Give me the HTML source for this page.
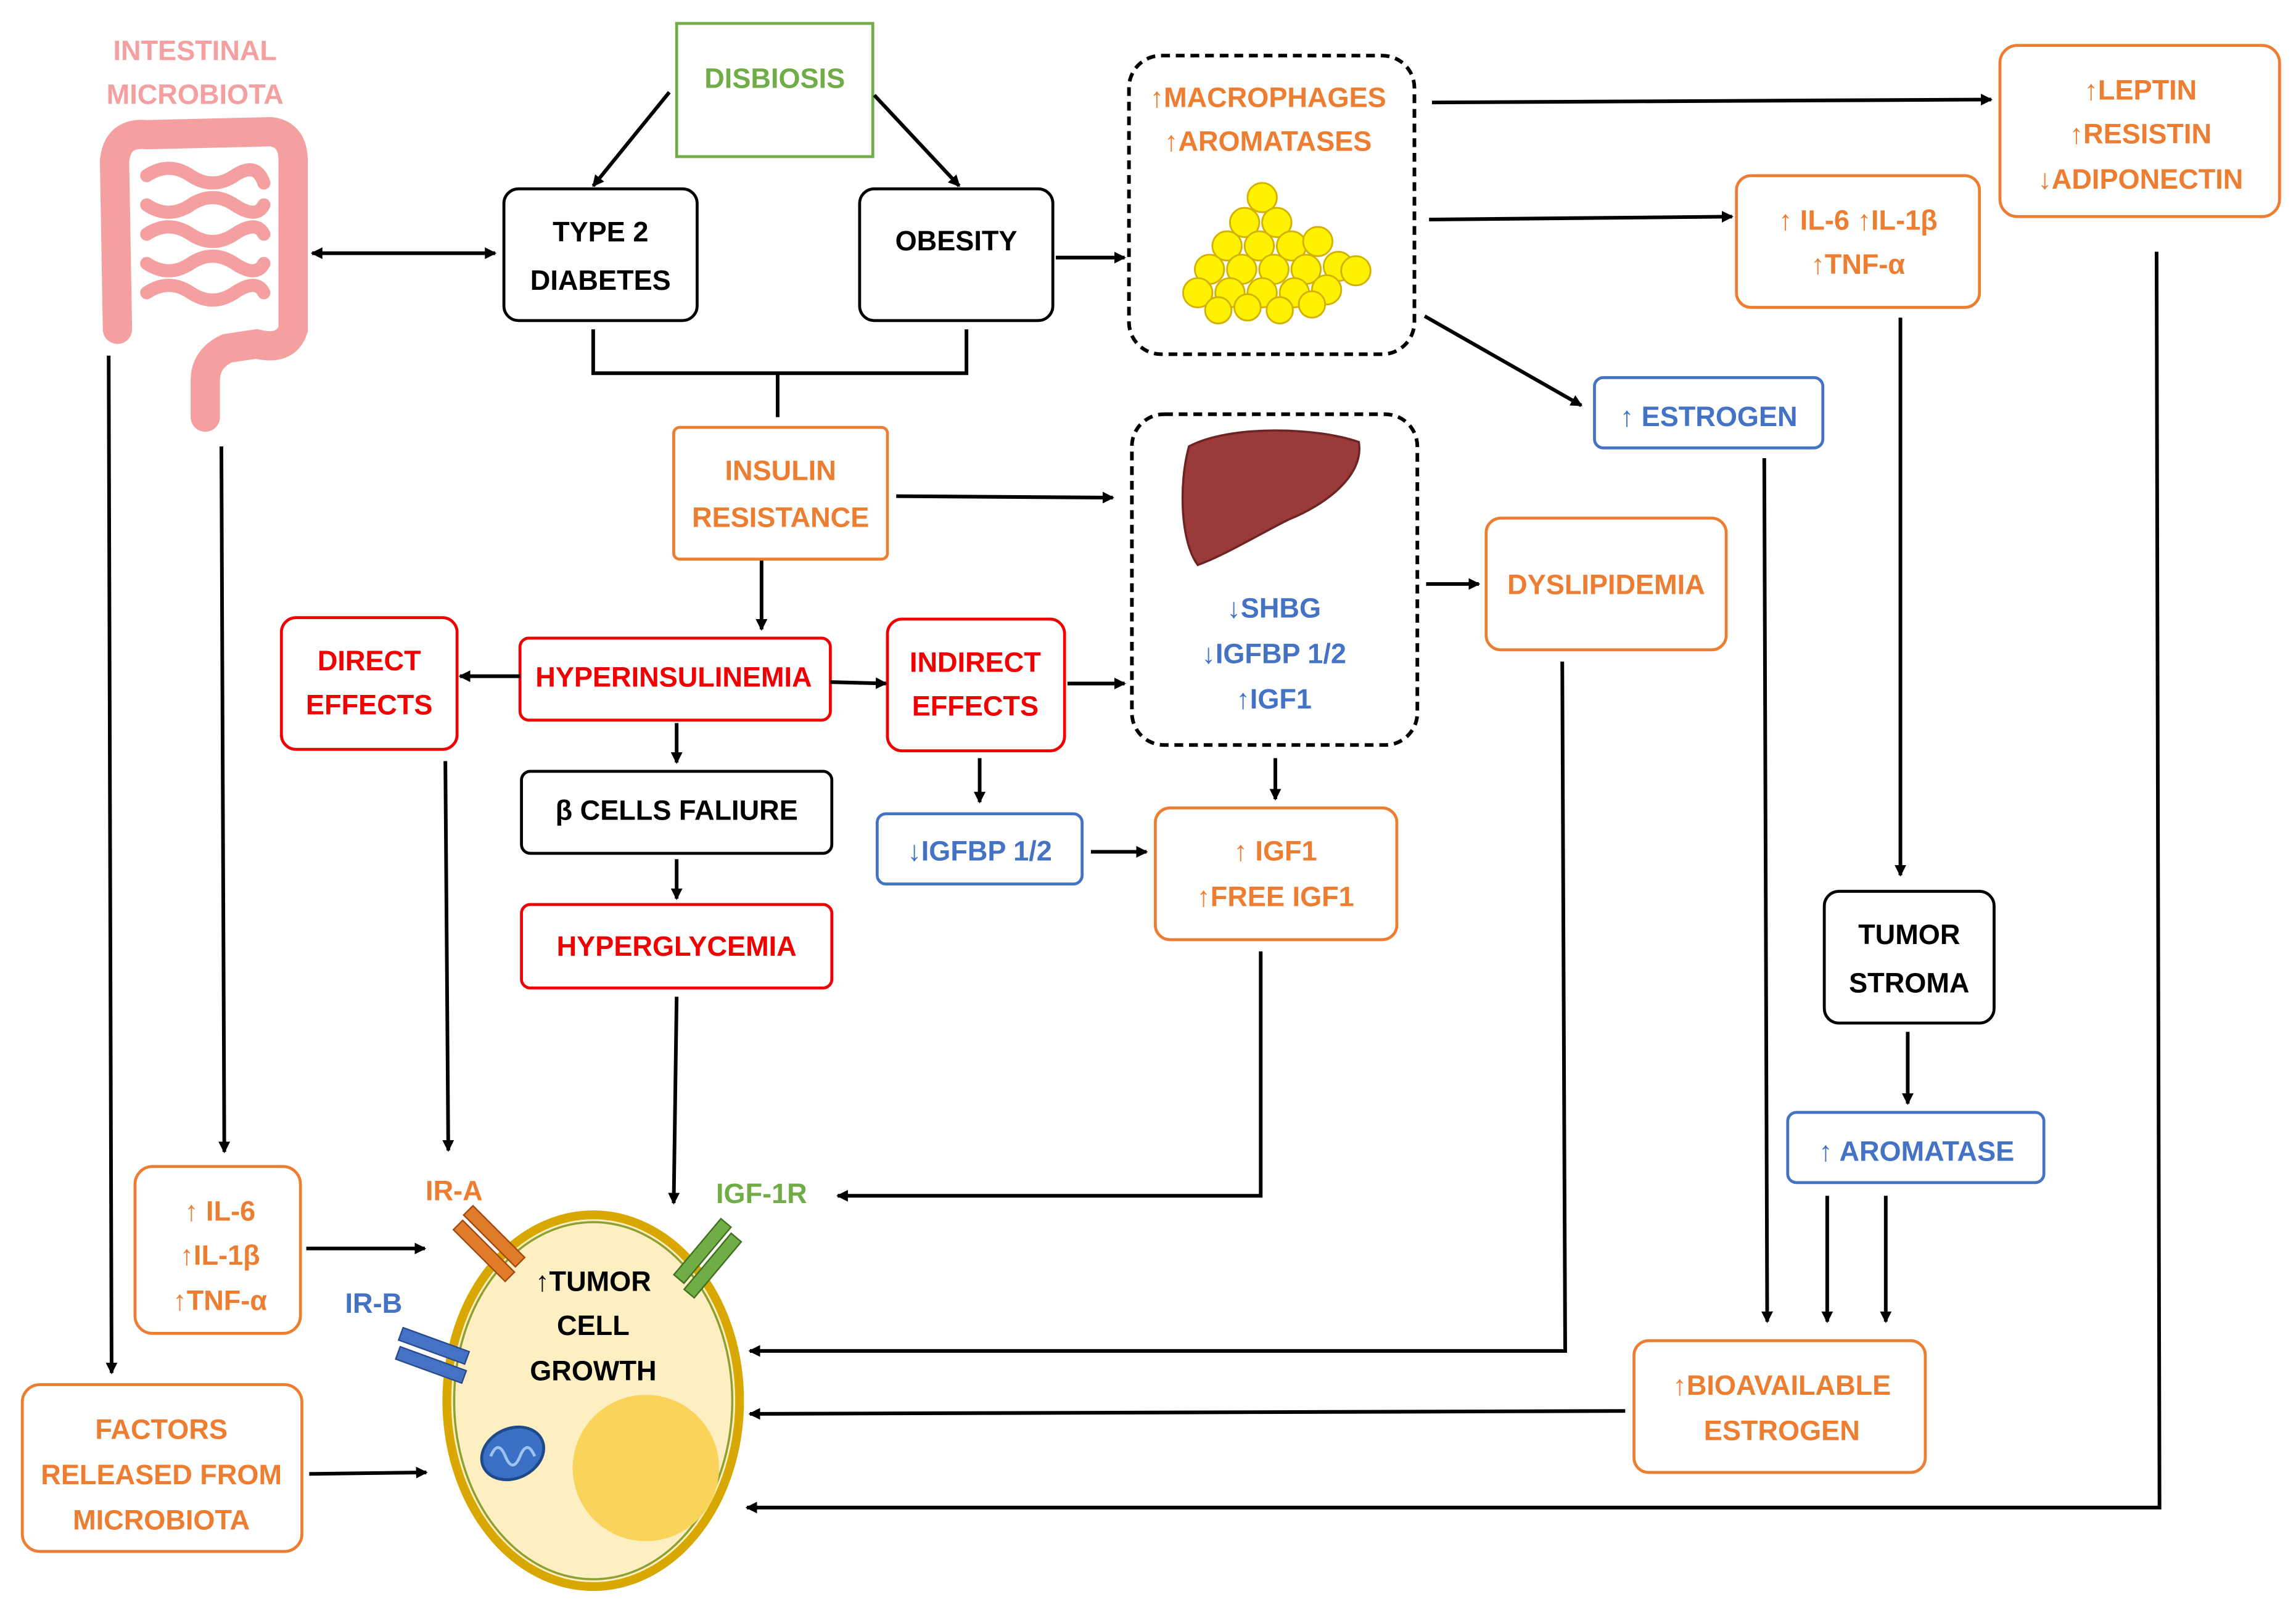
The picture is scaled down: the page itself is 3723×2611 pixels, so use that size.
<!DOCTYPE html>
<html><head><meta charset="utf-8"><style>
html,body{margin:0;padding:0;background:#fff}
svg{display:block}
text{font-family:"Liberation Sans Narrow","Liberation Sans",sans-serif;font-weight:bold;font-size:19px;text-anchor:middle;dominant-baseline:middle}
.o{fill:#ED7D31}.r{fill:#F00000}.b{fill:#4472C4}.g{fill:#70AD47}.k{fill:#000}.p{fill:#F4A0A0}
tspan.ar{font-family:"DejaVu Sans",sans-serif;font-weight:normal}
</style></head><body>
<svg width="3723" height="2611" viewBox="0 0 1568 1100" xmlns="http://www.w3.org/2000/svg">
<defs><marker id="a" markerWidth="8" markerHeight="8" refX="7" refY="4" orient="auto" markerUnits="userSpaceOnUse" viewBox="0 0 8 8"><path d="M0,0 L8,4 L0,8 z" fill="#000"/></marker>
<marker id="s" markerWidth="8" markerHeight="8" refX="1" refY="4" orient="auto" markerUnits="userSpaceOnUse" viewBox="0 0 8 8"><path d="M8,0 L0,4 L8,8 z" fill="#000"/></marker></defs>
<g fill="none" stroke-width="2">
<rect x="462" y="16" width="134" height="91" stroke="#70AD47"/>
<rect x="344" y="129" width="132" height="90" rx="10" stroke="#000"/>
<rect x="587" y="129" width="132" height="90" rx="10" stroke="#000"/>
<rect x="771" y="38" width="195" height="204" rx="22" stroke="#000" stroke-dasharray="6,4" stroke-width="2.5"/>
<rect x="1366" y="31" width="191" height="117" rx="12" stroke="#ED7D31"/>
<rect x="1186" y="120" width="166" height="90" rx="10" stroke="#ED7D31"/>
<rect x="1089" y="258" width="156" height="48" rx="6" stroke="#4472C4"/>
<rect x="460" y="292" width="146" height="90" rx="4" stroke="#ED7D31"/>
<rect x="773" y="283" width="195" height="226" rx="22" stroke="#000" stroke-dasharray="6,4" stroke-width="2.5"/>
<rect x="1015" y="354" width="164" height="90" rx="10" stroke="#ED7D31"/>
<rect x="355" y="436" width="212" height="56" rx="6" stroke="#F00000"/>
<rect x="192" y="422" width="120" height="90" rx="10" stroke="#F00000"/>
<rect x="606" y="423" width="121" height="90" rx="10" stroke="#F00000"/>
<rect x="356" y="527" width="212" height="56" rx="6" stroke="#000"/>
<rect x="356" y="618" width="212" height="57" rx="6" stroke="#F00000"/>
<rect x="599" y="556" width="140" height="48" rx="6" stroke="#4472C4"/>
<rect x="789" y="552" width="165" height="90" rx="10" stroke="#ED7D31"/>
<rect x="1246" y="609" width="116" height="90" rx="10" stroke="#000"/>
<rect x="1221" y="760" width="175" height="48" rx="6" stroke="#4472C4"/>
<rect x="1116" y="916" width="199" height="90" rx="10" stroke="#ED7D31"/>
<rect x="92" y="797" width="113" height="114" rx="12" stroke="#ED7D31"/>
<rect x="15" y="946" width="191" height="114" rx="12" stroke="#ED7D31"/>
</g>
<g stroke="#000" stroke-width="2.5" fill="none" marker-end="url(#a)">
<line x1="457" y1="63" x2="405" y2="127"/>
<line x1="597" y1="65" x2="655" y2="127"/>
<line x1="213" y1="173" x2="338" y2="173" marker-start="url(#s)"/>
<line x1="721" y1="176" x2="768" y2="176"/>
<line x1="978" y1="70" x2="1360" y2="68"/>
<line x1="976" y1="150" x2="1183" y2="148"/>
<line x1="973" y1="216" x2="1080" y2="277"/>
<line x1="612" y1="339" x2="760" y2="340"/>
<line x1="974" y1="399" x2="1010" y2="399"/>
<line x1="520" y1="383" x2="520" y2="430"/>
<line x1="355" y1="462" x2="314" y2="462"/>
<line x1="567" y1="466" x2="605" y2="467"/>
<line x1="729" y1="467" x2="768" y2="467"/>
<line x1="462" y1="494" x2="462" y2="521"/>
<line x1="462" y1="587" x2="462" y2="614"/>
<line x1="669" y1="518" x2="669" y2="548"/>
<line x1="745" y1="582" x2="783" y2="582"/>
<line x1="871" y1="518" x2="871" y2="546"/>
<line x1="1298" y1="217" x2="1298" y2="598"/>
<line x1="1303" y1="705" x2="1303" y2="754"/>
<line x1="1248" y1="817" x2="1248" y2="903"/>
<line x1="1288" y1="817" x2="1288" y2="903"/>
<line x1="1205" y1="313" x2="1207" y2="903"/>
<line x1="1110" y1="964" x2="512" y2="966"/>
<polyline points="1473,172 1475,1030 510,1030"/>
<polyline points="1067,452 1069,923 512,923"/>
<polyline points="861,650 861,817 572,817"/>
<line x1="462" y1="681" x2="460" y2="822"/>
<line x1="304" y1="520" x2="306" y2="786"/>
<line x1="151" y1="305" x2="153" y2="787"/>
<line x1="74" y1="243" x2="76" y2="938"/>
<line x1="209" y1="853" x2="290" y2="853"/>
<line x1="211" y1="1007" x2="291" y2="1006"/>
</g>
<polyline points="405,225 405,255 660,255 660,225" fill="none" stroke="#000" stroke-width="2.5"/>
<line x1="531" y1="255" x2="531" y2="285" stroke="#000" stroke-width="2.5"/>
<g fill="#FFF200" stroke="#D4B000" stroke-width="1.2">
<circle cx="862" cy="135" r="10"/><circle cx="850" cy="152" r="10"/><circle cx="872" cy="152" r="10"/>
<circle cx="838" cy="168" r="10"/><circle cx="860" cy="168" r="10"/><circle cx="882" cy="168" r="10"/><circle cx="900" cy="165" r="10"/>
<circle cx="826" cy="184" r="10"/><circle cx="848" cy="184" r="10"/><circle cx="870" cy="184" r="10"/><circle cx="892" cy="184" r="10"/><circle cx="914" cy="182" r="10"/>
<circle cx="818" cy="200" r="10"/><circle cx="840" cy="200" r="10"/><circle cx="862" cy="200" r="10"/><circle cx="884" cy="200" r="10"/><circle cx="906" cy="198" r="10"/><circle cx="926" cy="185" r="10"/>
<circle cx="832" cy="212" r="9"/><circle cx="852" cy="210" r="9"/><circle cx="874" cy="212" r="9"/><circle cx="896" cy="208" r="9"/>
</g>
<path d="M812,305 C840,290 900,292 928,302 C932,325 905,345 880,355 C860,365 835,380 818,386 C806,370 805,330 812,305 z" fill="#9B3A3A" stroke="#6E2424" stroke-width="1.5"/>
<g fill="none" stroke="#F4A0A0" stroke-linecap="round">
<path d="M80,225 L78,110 Q80,90 100,92 L185,90 Q200,92 200,110 L200,225 Q195,240 175,235 L155,238 Q140,245 140,260 L140,285" stroke-width="20"/>
<path d="M100,120 q15,-10 30,0 t30,0 t20,5 M100,140 q15,10 30,0 t30,0 t20,0 M100,160 q15,-10 30,0 t30,0 t20,0 M100,180 q15,10 30,0 t30,0 t20,0 M100,200 q15,-10 30,0 t30,0 t20,0" stroke-width="9"/>
</g>
<ellipse cx="405" cy="957" rx="100" ry="127" fill="#FDEFC2" stroke="#D9A800" stroke-width="6"/>
<ellipse cx="405" cy="957" rx="95" ry="122" fill="none" stroke="#8FA030" stroke-width="1.5"/>
<circle cx="441" cy="1003" r="50" fill="#FAD35A"/>
<ellipse cx="350" cy="993" rx="22" ry="17" fill="#3A6FC4" stroke="#1E4A8C" stroke-width="2" transform="rotate(-25 350 993)"/>
<path d="M335,995 q5,-12 10,0 t10,0 t10,0" fill="none" stroke="#9CC3F0" stroke-width="2"/>
<g fill="#E07B2A" stroke="#A04A10" stroke-width="1"><rect x="305" y="850" width="50" height="9" transform="rotate(45 330 855)"/><rect x="312" y="840" width="50" height="9" transform="rotate(45 337 845)"/></g>
<g fill="#70AD47" stroke="#3F7020" stroke-width="1"><rect x="455" y="850" width="50" height="9" transform="rotate(-50 480 855)"/><rect x="462" y="860" width="50" height="9" transform="rotate(-50 487 865)"/></g>
<g fill="#4472C4" stroke="#2A4A8C" stroke-width="1"><rect x="272" y="915" width="48" height="9" transform="rotate(20 296 920)"/><rect x="270" y="928" width="48" height="9" transform="rotate(20 294 933)"/></g>
<text x="133" y="36" class="p">INTESTINAL</text><text x="133" y="66" class="p">MICROBIOTA</text>
<text x="529" y="55" class="g">DISBIOSIS</text>
<text x="410" y="160" class="k">TYPE 2</text><text x="410" y="193" class="k">DIABETES</text>
<text x="653" y="166" class="k">OBESITY</text>
<text x="866" y="68" class="o">↑MACROPHAGES</text><text x="866" y="98" class="o">↑AROMATASES</text>
<text x="1462" y="63" class="o">↑LEPTIN</text><text x="1462" y="93" class="o">↑RESISTIN</text><text x="1462" y="124" class="o">↓ADIPONECTIN</text>
<text x="1269" y="152" class="o">↑ IL-6  ↑IL-1β</text><text x="1269" y="182" class="o">↑TNF-α</text>
<text x="1167" y="286" class="b">↑ ESTROGEN</text>
<text x="533" y="323" class="o">INSULIN</text><text x="533" y="355" class="o">RESISTANCE</text>
<text x="870" y="417" class="b">↓SHBG</text><text x="870" y="448" class="b">↓IGFBP 1/2</text><text x="870" y="479" class="b">↑IGF1</text>
<text x="1097" y="401" class="o">DYSLIPIDEMIA</text>
<text x="460" y="464" class="r">HYPERINSULINEMIA</text>
<text x="252" y="453" class="r">DIRECT</text><text x="252" y="483" class="r">EFFECTS</text>
<text x="666" y="454" class="r">INDIRECT</text><text x="666" y="484" class="r">EFFECTS</text>
<text x="462" y="555" class="k">β CELLS FALIURE</text>
<text x="462" y="648" class="r">HYPERGLYCEMIA</text>
<text x="669" y="583" class="b">↓IGFBP 1/2</text>
<text x="871" y="583" class="o">↑ IGF1</text><text x="871" y="614" class="o">↑FREE IGF1</text>
<text x="1304" y="640" class="k">TUMOR</text><text x="1304" y="673" class="k">STROMA</text>
<text x="1309" y="788" class="b">↑ AROMATASE</text>
<text x="1217" y="948" class="o">↑BIOAVAILABLE</text><text x="1217" y="979" class="o">ESTROGEN</text>
<text x="150" y="829" class="o">↑ IL-6</text><text x="150" y="859" class="o">↑IL-1β</text><text x="150" y="890" class="o">↑TNF-α</text>
<text x="110" y="978" class="o">FACTORS</text><text x="110" y="1009" class="o">RELEASED FROM</text><text x="110" y="1040" class="o">MICROBIOTA</text>
<text x="310" y="815" class="o">IR-A</text><text x="520" y="817" class="g">IGF-1R</text><text x="255" y="892" class="b">IR-B</text>
<text x="405" y="877" class="k">↑TUMOR</text><text x="405" y="907" class="k">CELL</text><text x="405" y="938" class="k">GROWTH</text>
</svg>
</body></html>
